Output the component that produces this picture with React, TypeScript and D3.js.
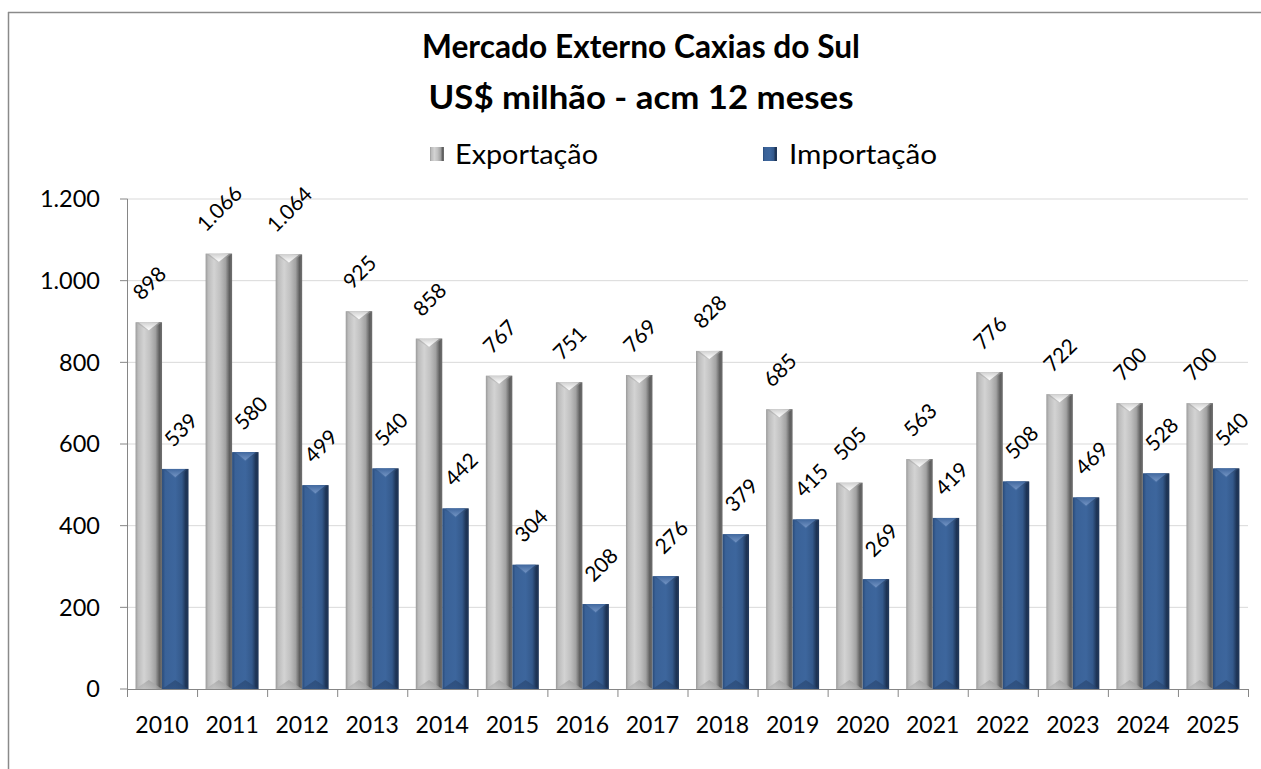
import React from "react";
import * as d3 from "d3";

const years = ["2010","2011","2012","2013","2014","2015","2016","2017","2018","2019","2020","2021","2022","2023","2024","2025"];
const exportacao = [898,1066,1064,925,858,767,751,769,828,685,505,563,776,722,700,700];
const importacao = [539,580,499,540,442,304,208,276,379,415,269,419,508,469,528,540];
const yTicks = [0,200,400,600,800,1000,1200];
const titleLines = ["Mercado Externo Caxias do Sul","US$ milhão - acm 12 meses"];
const seriesNames = ["Exportação","Importação"];

const W = 1261, H = 769;
const FONT = "Lato, 'Open Sans', sans-serif";
const locale = d3.formatLocale({ decimal: ",", thousands: ".", grouping: [3], currency: ["R$", ""] });
const fmt = locale.format(",.0f");

let ctx: CanvasRenderingContext2D | null = null;
function measure(text: string, size: number): number {
  if (!ctx) {
    const c = document.createElement("canvas");
    ctx = c.getContext("2d");
  }
  if (!ctx) return text.length * size * 0.52;
  ctx.font = `${size}px Lato`;
  return ctx.measureText(text).width;
}

const x = d3.scaleBand<string>().domain(years).range([127, 1248]).paddingInner(0).paddingOuter(0);
const inner = d3.scaleBand<string>().domain(["exp","imp"]).range([0, x.bandwidth()]).paddingInner(0).paddingOuter(0.322);
const y = d3.scaleLinear().domain([0, 1200]).range([689, 199]);

function Bar({ x0, top, w, bottom, kind }: { x0: number; top: number; w: number; bottom: number; kind: "g" | "b" }) {
  const h = bottom - top;
  const cx = x0 + w / 2;
  const b = Math.min(9, h / 2);
  return (
    <g>
      <rect x={x0} y={top} width={w} height={h} fill={`url(#${kind}Side)`} />
      <polygon points={`${x0},${top} ${x0 + w},${top} ${cx},${top + b}`} fill={`url(#${kind}TopL)`} />
      <polygon points={`${x0 + 3},${top} ${x0 + w - 3},${top} ${cx},${top + b - 1}`} fill={`url(#${kind}Top)`} />
      <polygon points={`${x0},${bottom} ${cx},${bottom - b} ${x0 + w},${bottom}`} fill={`url(#${kind}Bot)`} />
    </g>
  );
}

export default function App() {
  const labelSize = 21;
  const capH = labelSize * 0.72;
  const c45 = Math.SQRT1_2;
  const labels: { text: string; cx: number; cy: number }[] = [];
  years.forEach((yr, i) => {
    const vals = [exportacao[i], importacao[i]];
    ["exp", "imp"].forEach((k, j) => {
      const v = vals[j];
      const bx = (x(yr) as number) + (inner(k) as number);
      const cx = bx + inner.bandwidth() / 2 + (j === 0 ? 0.5 : 5.5);
      const t = fmt(v);
      const wt = measure(t, labelSize);
      const hb = (wt + capH) * c45;
      labels.push({ text: t, cx, cy: y(v) - 21 - hb / 2 });
    });
  });

  return (
    <svg width={W} height={H} style={{ position: "absolute", left: 0, top: 0, background: "#fff" }} fontFamily={FONT}>
      <defs>
        <linearGradient id="gSide" x1="0" x2="1" y1="0" y2="0">
          <stop offset="0" stopColor="#9a9a9a" />
          <stop offset="0.1" stopColor="#bcbcbc" />
          <stop offset="0.32" stopColor="#d3d3d3" />
          <stop offset="0.55" stopColor="#c0c0c0" />
          <stop offset="0.75" stopColor="#a2a2a2" />
          <stop offset="0.9" stopColor="#5e5e5e" />
          <stop offset="1" stopColor="#707070" />
        </linearGradient>
        <linearGradient id="gTopL" x1="0" x2="1" y1="0" y2="0">
          <stop offset="0" stopColor="#a8a8a8" />
          <stop offset="0.5" stopColor="#c8c8c8" />
          <stop offset="1" stopColor="#777777" />
        </linearGradient>
        <linearGradient id="gTop" x1="0" x2="0" y1="0" y2="1">
          <stop offset="0" stopColor="#d0d0d0" />
          <stop offset="1" stopColor="#ffffff" />
        </linearGradient>
        <linearGradient id="gBot" x1="0" x2="0" y1="0" y2="1">
          <stop offset="0" stopColor="#909090" stopOpacity="0.5" />
          <stop offset="1" stopColor="#b8b8b8" stopOpacity="0.6" />
        </linearGradient>
        <linearGradient id="bSide" x1="0" x2="1" y1="0" y2="0">
          <stop offset="0" stopColor="#284a79" />
          <stop offset="0.12" stopColor="#3a6298" />
          <stop offset="0.5" stopColor="#3d669d" />
          <stop offset="0.75" stopColor="#34598b" />
          <stop offset="0.9" stopColor="#1d3354" />
          <stop offset="1" stopColor="#22395c" />
        </linearGradient>
        <linearGradient id="bTopL" x1="0" x2="1" y1="0" y2="0">
          <stop offset="0" stopColor="#2f5384" />
          <stop offset="0.5" stopColor="#4a72a8" />
          <stop offset="1" stopColor="#1f3658" />
        </linearGradient>
        <linearGradient id="bTop" x1="0" x2="0" y1="0" y2="1">
          <stop offset="0" stopColor="#42699f" />
          <stop offset="1" stopColor="#7394c4" />
        </linearGradient>
        <linearGradient id="bBot" x1="0" x2="0" y1="0" y2="1">
          <stop offset="0" stopColor="#1d3354" stopOpacity="0.4" />
          <stop offset="1" stopColor="#2a4a78" stopOpacity="0.6" />
        </linearGradient>
      </defs>

      {/* outer frame */}
      <line x1={8.5} y1={12} x2={8.5} y2={H} stroke="#8a8a8a" strokeWidth={1.5} />
      <line x1={8} y1={12.5} x2={W} y2={12.5} stroke="#8a8a8a" strokeWidth={1.5} />

      {/* title */}
      <text x={641} y={58} textAnchor="middle" fontSize={33} fontWeight="bold" fill="#000" textLength={438} lengthAdjust="spacingAndGlyphs">{titleLines[0]}</text>
      <text x={641} y={109} textAnchor="middle" fontSize={33} fontWeight="bold" fill="#000" textLength={425} lengthAdjust="spacingAndGlyphs">{titleLines[1]}</text>

      {/* legend */}
      <g>
        <rect x={430} y={147} width={14} height={14} fill="url(#gSide)" />
        <text x={455} y={164} fontSize={26} fill="#000" textLength={143} lengthAdjust="spacingAndGlyphs">{seriesNames[0]}</text>
        <rect x={763} y={147} width={14} height={14} fill="url(#bSide)" />
        <text x={789} y={164} fontSize={26} fill="#000" textLength={148} lengthAdjust="spacingAndGlyphs">{seriesNames[1]}</text>
      </g>

      {/* gridlines */}
      {yTicks.filter(t => t > 0).map(t => (
        <line key={t} x1={127} x2={1248} y1={y(t)} y2={y(t)} stroke="#d9d9d9" strokeWidth={1} />
      ))}

      {/* bars */}
      {years.map((yr, i) => {
        const bx = x(yr) as number;
        const w = inner.bandwidth();
        return (
          <g key={yr}>
            <Bar x0={bx + (inner("exp") as number)} top={y(exportacao[i])} w={w} bottom={y(0)} kind="g" />
            <Bar x0={bx + (inner("imp") as number)} top={y(importacao[i])} w={w} bottom={y(0)} kind="b" />
          </g>
        );
      })}

      {/* axes */}
      <line x1={127.5} x2={127.5} y1={y(1200)} y2={y(0)} stroke="#868686" strokeWidth={1} />
      {yTicks.map(t => (
        <g key={t}>
          <line x1={120} x2={127.5} y1={y(t)} y2={y(t)} stroke="#868686" strokeWidth={1} />
          <text x={100} y={y(t)} dy="0.36em" textAnchor="end" fontSize={23.5} fill="#000">{fmt(t)}</text>
        </g>
      ))}
      <line x1={127} x2={1248} y1={y(0) + 0.5} y2={y(0) + 0.5} stroke="#868686" strokeWidth={1} />
      {years.map(yr => (
        <line key={"t" + yr} x1={(x(yr) as number) + 0.5} x2={(x(yr) as number) + 0.5} y1={y(0)} y2={y(0) + 8} stroke="#868686" strokeWidth={1} />
      ))}
      <line x1={1248.5} x2={1248.5} y1={y(0)} y2={y(0) + 8} stroke="#868686" strokeWidth={1} />
      {years.map(yr => (
        <text key={"l" + yr} x={(x(yr) as number) + x.bandwidth() / 2} y={733} textAnchor="middle" fontSize={23} fill="#000">{yr}</text>
      ))}

      {/* data labels, rotated 45° counter-clockwise */}
      {labels.map((l, i) => (
        <text
          key={i}
          transform={`translate(${l.cx.toFixed(2)},${l.cy.toFixed(2)}) rotate(-45)`}
          textAnchor="middle"
          dy="0.36em"
          fontSize={labelSize}
          fill="#000"
        >
          {l.text}
        </text>
      ))}
    </svg>
  );
}
